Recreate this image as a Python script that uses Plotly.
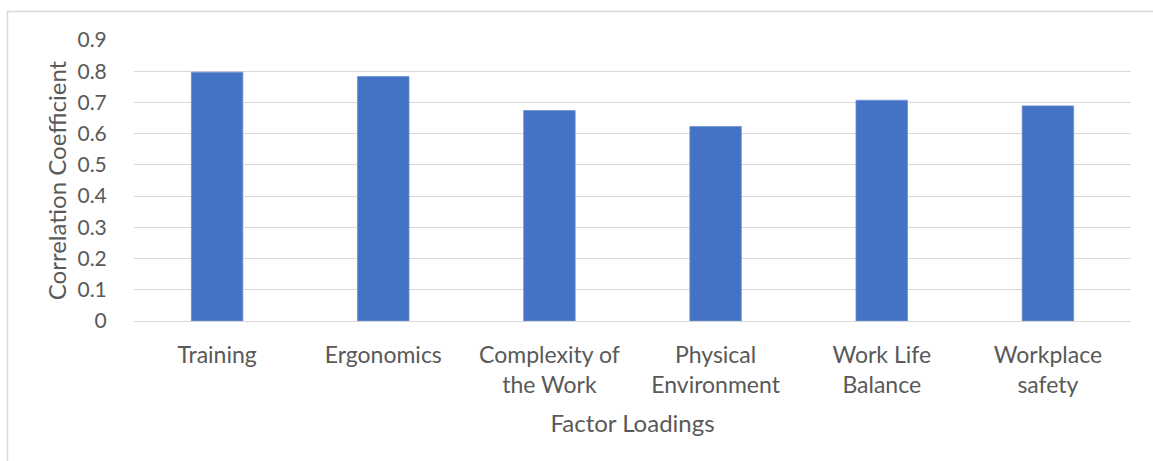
import plotly.graph_objects as go

# Factor loadings per workplace factor
factors = [
    "Training",
    "Ergonomics",
    "Complexity of<br>the Work",
    "Physical<br>Environment",
    "Work Life<br>Balance",
    "Workplace<br>safety",
]
loadings = [0.797, 0.783, 0.674, 0.623, 0.707, 0.689]
y_ticks = [0, 0.1, 0.2, 0.3, 0.4, 0.5, 0.6, 0.7, 0.8, 0.9]
y_tick_text = ["0", "0.1", "0.2", "0.3", "0.4", "0.5", "0.6", "0.7", "0.8", "0.9"]

W, H = 1153, 461
ML, MR, MT, MB = 134, 22, 40, 140
PW, PH = W - ML - MR, H - MT - MB

FONT = "Lato"
TEXT = "#595959"
GRID = "#d9d9d9"

fig = go.Figure(
    go.Bar(
        x=factors,
        y=loadings,
        marker=dict(color="#4472C4", line=dict(color="#6f90d3", width=0.8)),
        width=0.31,
        hoverinfo="x+y",
    )
)

fig.update_layout(
    width=W,
    height=H,
    margin=dict(l=ML, r=MR, t=MT, b=MB, pad=0),
    paper_bgcolor="white",
    plot_bgcolor="white",
    showlegend=False,
    font=dict(family=FONT, color=TEXT, size=21),
)

fig.update_xaxes(
    showgrid=False,
    showline=False,
    ticks="outside",
    ticklen=13,
    tickcolor="rgba(0,0,0,0)",
    tickfont=dict(family=FONT, size=23, color=TEXT),
    title=dict(text="Factor Loadings", font=dict(family=FONT, size=24, color=TEXT), standoff=18),
)

fig.update_yaxes(
    range=[0, 0.9],
    tickvals=y_ticks,
    ticktext=y_tick_text,
    showgrid=True,
    gridcolor=GRID,
    gridwidth=1,
    zeroline=True,
    zerolinecolor=GRID,
    zerolinewidth=1,
    showline=False,
    ticks="outside",
    ticklen=22,
    tickcolor="rgba(0,0,0,0)",
    tickfont=dict(family=FONT, size=21, color=TEXT),
    title=dict(text="Correlation Coefficient", font=dict(family=FONT, size=24, color=TEXT), standoff=4),
)

# Light grey chart-area frame (top and left edges visible)
fig.add_shape(
    type="rect",
    xref="paper",
    yref="paper",
    x0=(7.5 - ML) / PW,
    x1=(W + 10 - ML) / PW,
    y0=(MT + PH - (H + 10)) / PH,
    y1=(MT + PH - 11.5) / PH,
    line=dict(color=GRID, width=1.5),
    fillcolor="rgba(0,0,0,0)",
    layer="below",
)

fig.write_html("out.html")
